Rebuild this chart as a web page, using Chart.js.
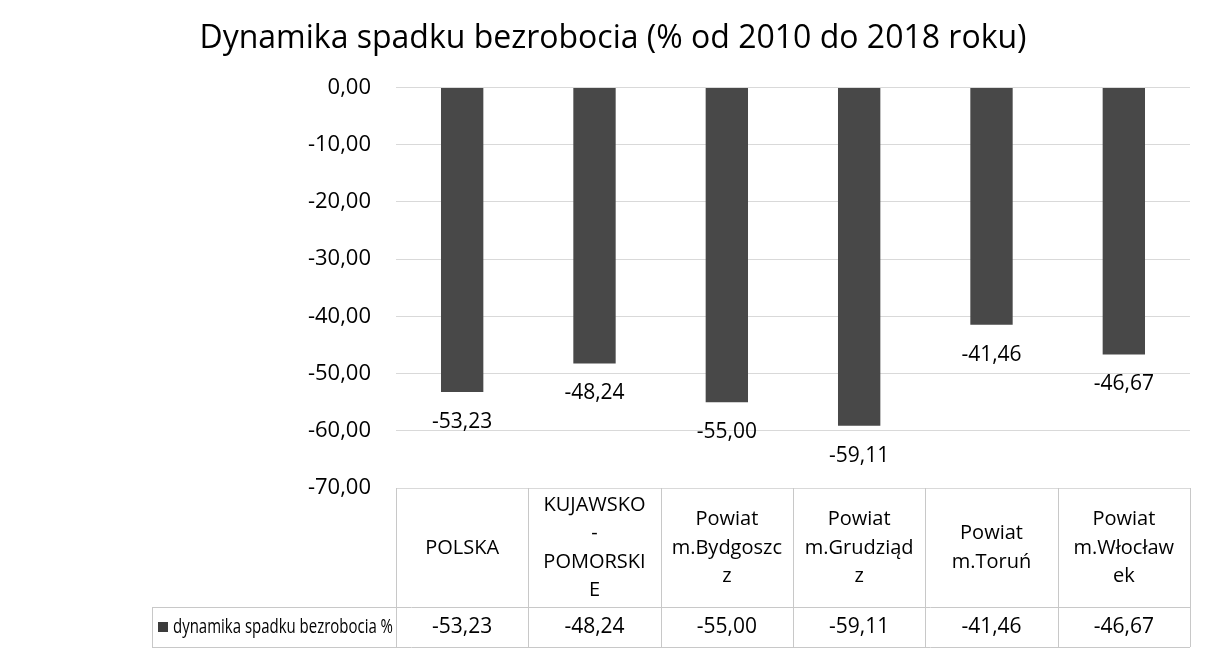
<!DOCTYPE html>
<html>
<head>
<meta charset="utf-8">
<script src="https://cdn.jsdelivr.net/npm/chart.js@4.4.1/dist/chart.umd.min.js"></script>
<style>
  html, body { margin: 0; padding: 0; background: #ffffff; }
  #wrap { width: 1207px; height: 654px; }
</style>
</head>
<body>
<div id="wrap"><canvas id="c" width="1207" height="654"></canvas></div>
<script>
// ---- data ----
const chartTitle = "Dynamika spadku bezrobocia (% od 2010 do 2018 roku)";
const categories = [
  ["POLSKA"],
  ["KUJAWSKO", "-", "POMORSKI", "E"],
  ["Powiat", "m.Bydgoszc", "z"],
  ["Powiat", "m.Grudziąd", "z"],
  ["Powiat", "m.Toruń"],
  ["Powiat", "m.Włocław", "ek"]
];
const seriesName = "dynamika spadku bezrobocia %";
const seriesValues = [-53.23, -48.24, -55.00, -59.11, -41.46, -46.67];
const yMin = -70;
const yMax = 0;
const yStep = 10;

// ---- helpers ----
const FONT = "'Open Sans', 'Noto Sans', sans-serif";
const fmt = v => v.toFixed(2).replace('.', ',');

const valueLabels = {
  id: 'valueLabels',
  afterDatasetsDraw(chart) {
    const ctx = chart.ctx;
    const meta = chart.getDatasetMeta(0);
    ctx.save();
    ctx.font = "21px " + FONT;
    ctx.fillStyle = "#000";
    ctx.textAlign = "center";
    ctx.textBaseline = "middle";
    meta.data.forEach((bar, i) => {
      ctx.fillText(fmt(seriesValues[i]), bar.x, bar.y + 30);
    });
    ctx.restore();
  }
};

const dataTable = {
  id: 'dataTable',
  afterDraw(chart) {
    const ctx = chart.ctx;
    const xs = chart.scales.x;
    const area = chart.chartArea;
    const headerTop = area.bottom;
    const rowTop = 607;
    const rowBottom = 647;
    const legendLeft = 152;
    const n = categories.length;
    const colW = (area.right - area.left) / n;

    ctx.save();
    ctx.strokeStyle = "#c8c8c8";
    ctx.lineWidth = 1;
    ctx.beginPath();
    for (let i = 0; i <= n; i++) {
      const x = Math.round(area.left + i * colW) + 0.5;
      ctx.moveTo(x, headerTop);
      ctx.lineTo(x, rowBottom);
    }
    ctx.moveTo(legendLeft + 0.5, rowTop);
    ctx.lineTo(legendLeft + 0.5, rowBottom);
    ctx.moveTo(legendLeft, rowTop + 0.5);
    ctx.lineTo(area.right, rowTop + 0.5);
    ctx.moveTo(legendLeft, rowBottom + 0.5);
    ctx.lineTo(area.right, rowBottom + 0.5);
    ctx.stroke();

    // header (category) labels
    ctx.fillStyle = "#000";
    ctx.textAlign = "center";
    ctx.textBaseline = "middle";
    ctx.font = "20px " + FONT;
    const lh = 28.5;
    const midY = 548;
    categories.forEach((lines, i) => {
      const x = xs.getPixelForValue(i);
      const y0 = midY - (lines.length - 1) * lh / 2;
      lines.forEach((t, k) => ctx.fillText(t, x, y0 + k * lh));
    });

    // data row values
    const rowMid = 627;
    ctx.font = "21px " + FONT;
    seriesValues.forEach((v, i) => {
      ctx.fillText(fmt(v), xs.getPixelForValue(i), rowMid);
    });

    // legend cell
    ctx.fillStyle = "#3c3c3c";
    ctx.fillRect(158, rowMid - 5, 10, 10);
    ctx.fillStyle = "#000";
    ctx.textAlign = "left";
    ctx.font = "20px " + FONT;
    const textLeft = 173;
    const maxW = 220;
    const w = ctx.measureText(seriesName).width;
    const sx = Math.min(1, maxW / w);
    ctx.translate(textLeft, rowMid);
    ctx.scale(sx, 1);
    ctx.fillText(seriesName, 0, 0);
    ctx.restore();
  }
};

new Chart(document.getElementById('c'), {
  type: 'bar',
  data: {
    labels: categories,
    datasets: [{
      label: seriesName,
      data: seriesValues,
      backgroundColor: "#484848",
      borderWidth: 0,
      barPercentage: 0.32,
      categoryPercentage: 1.0
    }]
  },
  options: {
    responsive: false,
    animation: false,
    devicePixelRatio: 1,
    layout: { padding: { left: 36, right: 17, top: 0, bottom: 166 } },
    plugins: {
      legend: { display: false },
      tooltip: { enabled: false },
      title: {
        display: true,
        text: chartTitle,
        color: "#000",
        font: { family: FONT, size: 32, weight: 'normal', lineHeight: 1.2 },
        padding: { top: 20, bottom: 29 }
      }
    },
    scales: {
      x: {
        display: false
      },
      y: {
        min: yMin,
        max: yMax,
        afterFit(scale) { scale.width = 360; },
        ticks: {
          stepSize: yStep,
          padding: 25,
          color: "#000",
          font: { family: FONT, size: 22 },
          callback: v => fmt(v)
        },
        grid: { color: "#d9d9d9", drawTicks: false },
        border: { display: false }
      }
    }
  },
  plugins: [valueLabels, dataTable]
});
</script>
</body>
</html>
